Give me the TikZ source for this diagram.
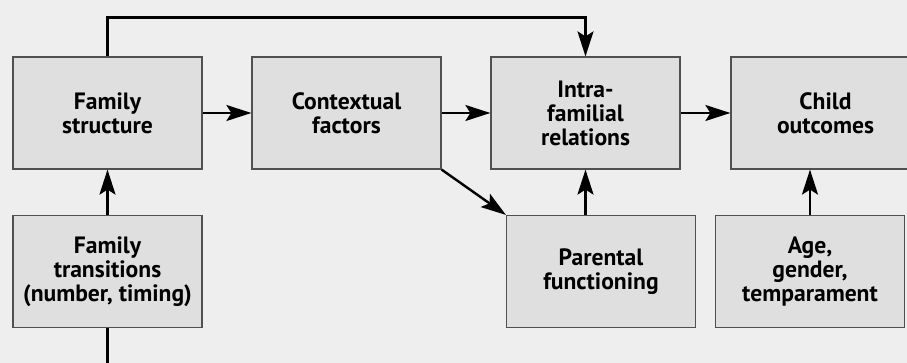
\documentclass[tikz,border=0pt]{standalone}
\usepackage{fontspec}
\setmainfont{PT Sans}
\usetikzlibrary{arrows.meta}
\definecolor{bgfill}{HTML}{EEEEEE}
\definecolor{boxfill}{HTML}{DFDFDF}
\definecolor{boxline}{HTML}{505050}

\begin{document}
\begin{tikzpicture}[x=0.5pt,y=0.5pt,
    box/.style={draw=boxline, fill=boxfill, line width=0.6pt, minimum width=94.5pt,
      minimum height=56pt, inner sep=0pt, align=center,
      font=\bfseries\fontsize{11.8}{12}\selectfont},
    link/.style={line width=1.2pt, -{Stealth[length=12.5pt,width=8pt,inset=2.5pt]}},
    plain/.style={line width=1.2pt}]
	%\draw[step=50,color=gray] (0,0) grid (907,363);
	\fill[bgfill] (0,0) rectangle (907,363);
	\clip (0,0) rectangle (907,363);
	% top row
	\node[box] (fs) at (107.5,250) {Family\\structure};
	\node[box] (cf) at (346.5,250) {Contextual\\factors};
	\node[box] (intra) at (585.5,250) {Intra-\\familial\\relations};
	\node[box] (child) at (825.5,250) {Child\\outcomes};
	% bottom row
	\node[box] (trans) at (107.5,91.5) {Family\\transitions\\(number, timing)};
	\node[box] (par) at (601,91.5) {Parental\\functioning};
	\node[box] (age) at (810,91.5) {Age,\\gender,\\temparament};
	\coordinate (tail) at (107.5,0);
	% connectors
	\draw[link] (fs) -- (cf);
	\draw[link] (cf) -- (intra);
	\draw[link] (intra) -- (child);
	\draw[link] (fs.north) -- ++(0,39) -| (intra.north);
	\draw[link] (trans) -- (fs);
	\draw[link] (cf.south east) -- (par.north west);
	\draw[link] (par.north -| intra.south) -- (intra.south);
	\draw[link] (age.north) -- (age.north |- child.south);
	\draw[plain] (trans.south) -- (tail);
\end{tikzpicture}
\end{document}
